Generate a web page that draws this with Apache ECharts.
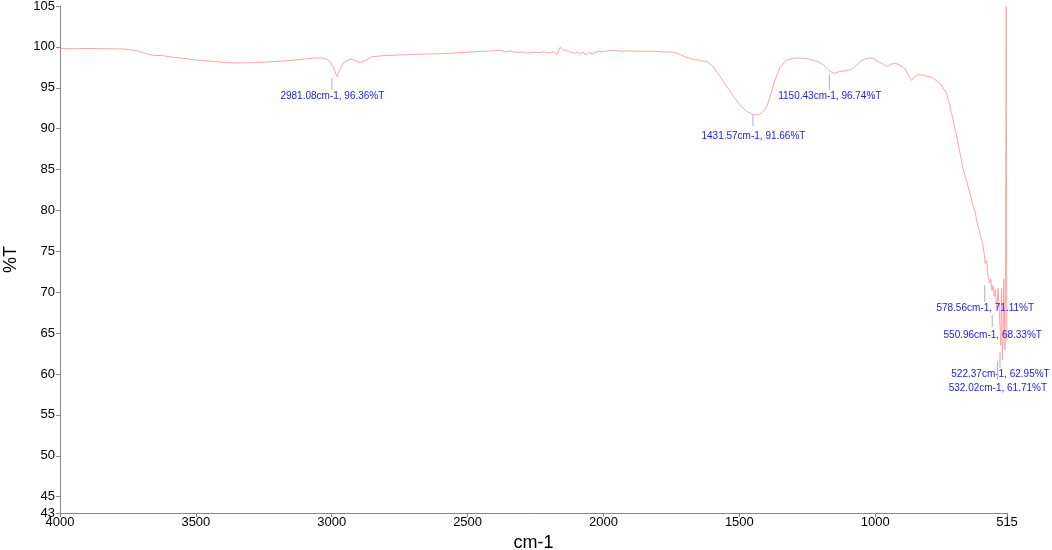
<!DOCTYPE html>
<html>
<head>
<meta charset="utf-8">
<script src="https://cdn.jsdelivr.net/npm/echarts@6/dist/echarts.min.js"></script>
<style>html,body{margin:0;padding:0;background:#fff;}#c{width:1052px;height:550px;}</style>
</head>
<body>
<div id="c"></div>
<script>
// ---- data ----
const wavenumbers = [4000,3950,3900,3850,3800,3760,3720,3690,3660,3620,3580,3540,3500,3450,3400,3360,3320,3280,3240,3200,3150,3100,3060,3030,3010,2995,2981.08,2970,2955,2935,2915,2895,2875,2850,2800,2750,2700,2650,2600,2550,2500,2450,2400,2380,2360,2340,2320,2300,2280,2260,2240,2220,2200,2180,2170,2160,2150,2135,2120,2105,2095,2085,2075,2065,2055,2040,2020,2000,1980,1960,1940,1900,1860,1820,1790,1760,1740,1720,1700,1670,1640,1620,1600,1571,1545,1522,1500,1473,1450,1431.57,1415,1399,1385,1369,1350,1326,1300,1277,1250,1228,1210,1191,1170,1150.43,1135,1123,1105,1087,1070,1056,1040,1025,1005,989,970,958,940,925,905,890,875,866,855,841,820,798,780,762,750,737,728,719,710,700,688,676,663,651,640,633,625,614,605,600,595,590,585,578.56,575,570,566,562,558,553,550.96,548,545,541,538,535,532.02,529,527,524,522.37,520,518,516,515];
const transmittance = [99.80,99.78,99.80,99.78,99.76,99.72,99.55,99.25,98.98,98.92,98.70,98.58,98.40,98.25,98.12,98.03,98.05,98.08,98.15,98.22,98.35,98.52,98.65,98.62,98.35,97.60,96.36,97.20,98.10,98.45,98.40,98.05,98.35,98.80,98.95,99.02,99.08,99.12,99.16,99.25,99.35,99.45,99.52,99.60,99.40,99.48,99.30,99.38,99.22,99.35,99.28,99.40,99.25,99.38,99.05,99.95,99.65,99.55,99.35,99.18,99.40,99.10,99.35,99.05,99.30,99.15,99.45,99.40,99.55,99.58,99.48,99.50,99.45,99.48,99.40,99.38,99.35,99.10,98.80,98.45,98.30,98.22,97.70,96.40,95.10,93.95,93.00,92.10,91.75,91.66,92.00,92.70,94.10,95.95,97.50,98.40,98.62,98.63,98.55,98.34,98.20,97.80,97.10,96.74,96.95,97.00,97.10,97.25,97.70,98.20,98.50,98.65,98.55,98.20,97.90,97.60,97.90,98.00,97.70,97.30,96.30,95.90,96.30,96.60,96.50,96.35,96.00,95.55,95.00,94.30,93.20,91.90,90.50,89.00,87.00,85.00,83.50,82.10,80.60,80.00,78.50,77.20,76.00,75.00,73.50,73.90,72.00,71.11,71.60,70.20,70.80,69.50,70.30,68.00,68.33,70.50,69.00,66.00,63.50,70.50,61.71,65.00,71.60,66.00,62.95,75.00,104.9,70.00,64.00];
const peakWavenumbers = [2981.08,1431.57,1150.43,578.56,550.96,522.37,532.02];
const peakValues = [96.36,91.66,96.74,71.11,68.33,62.95,61.71];
const xTicks = [4000,3500,3000,2500,2000,1500,1000,515];
const yTicks = [43,45,50,55,60,65,70,75,80,85,90,95,100,105];

// label placement (styling only): tick start, tick end, label top offsets in px below the peak
const annLayout = [
  {s:1,e:13,t:15},{s:0,e:11,t:16},{s:1,e:16,t:18},
  {s:2,e:19,t:20},{s:9,e:21,t:24},{s:2,e:18,t:19},{s:1,e:20,t:23}
];

const spectrum = wavenumbers.map((w,i)=>[w,transmittance[i]]);
const peaks = peakWavenumbers.map((w,i)=>[w,peakValues[i]]);

const FONT = '"Liberation Sans", Arial, sans-serif';
const plain = v => String(v);
const chart = echarts.init(document.getElementById('c'), null, {renderer:'canvas'});
chart.setOption({
  animation:false,
  backgroundColor:'#fff',
  grid:{left:60,right:45,top:6,bottom:37,containLabel:false,outerBoundsMode:'none'},
  xAxis:{
    type:'value', inverse:true, min:515, max:4000,
    name:'cm-1', nameLocation:'middle', nameGap:18,
    nameTextStyle:{fontFamily:FONT,fontSize:18,color:'#000'},
    axisLine:{show:true,lineStyle:{color:'#888',width:1}},
    axisTick:{show:true,length:4,customValues:xTicks,lineStyle:{color:'#888'}},
    axisLabel:{customValues:xTicks,formatter:plain,fontFamily:FONT,fontSize:13,color:'#000',margin:3,showMinLabel:true,showMaxLabel:true},
    splitLine:{show:false}
  },
  yAxis:{
    type:'value', min:43, max:105,
    name:'%T', nameLocation:'middle', nameGap:40, nameRotate:90,
    nameTextStyle:{fontFamily:FONT,fontSize:18,color:'#000'},
    axisLine:{show:true,lineStyle:{color:'#888',width:1}},
    axisTick:{show:true,length:4,customValues:yTicks,lineStyle:{color:'#888'}},
    axisLabel:{customValues:yTicks,formatter:plain,fontFamily:FONT,fontSize:13,color:'#000',margin:5,showMinLabel:true,showMaxLabel:true},
    splitLine:{show:false}
  },
  series:[
    {
      type:'line', data:spectrum, showSymbol:false, symbol:'none', sampling:null,
      lineStyle:{color:'#f7a6a3',width:1}, silent:true, z:2
    },
    {
      type:'custom', coordinateSystem:'cartesian2d', data:peaks, clip:false, silent:true, z:3,
      renderItem:function(params, api){
        const w = api.value(0), v = api.value(1);
        const p = api.coord([w,v]);
        const L = annLayout[params.dataIndex];
        return {type:'group', children:[
          {type:'line', shape:{x1:p[0]-5,y1:p[1]+L.s,x2:p[0]-5,y2:p[1]+L.e}, style:{stroke:'#a8abf2',lineWidth:1}},
          {type:'text', x:p[0]-4.5, y:p[1]+L.t, style:{
            text: w.toFixed(2)+'cm-1, '+v.toFixed(2)+'%T',
            fill:'#1a1ae6', font:'10px '+FONT, align:'center', verticalAlign:'top'}}
        ]};
      }
    }
  ]
});
</script>
</body>
</html>
